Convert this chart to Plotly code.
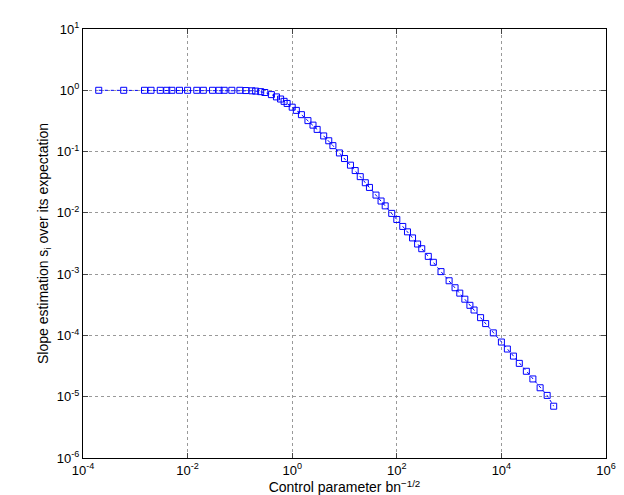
import plotly.graph_objects as go

# control parameter values (x) and normalised slope estimates (y)
control_param = [2e-4, 6e-4, 1.5e-3, 2e-3, 3e-3, 4e-3, 5e-3, 7e-3, 0.01, 0.015, 0.02, 0.03,
                 0.04, 0.05, 0.07, 0.1, 0.13, 0.17, 0.2, 0.25, 0.3, 0.4, 0.5, 0.6, 0.7, 0.8,
                 1.0, 1.2, 1.5, 2, 2.5, 3, 4, 5, 6, 8, 10, 13, 16, 20, 25, 30, 40, 50, 60, 80,
                 100, 130, 160, 200, 250, 300, 400, 500, 700, 1000, 1300, 1600, 2000, 2500,
                 3000, 4000, 5000, 7000, 1e4, 1.3e4, 1.7e4, 2.2e4, 3e4, 4e4, 5.5e4, 7.5e4, 1e5]
slope_ratio = [1.0, 1.0, 1.0, 1.0, 1.0, 1.0, 1.0, 1.0, 1.0, 1.0, 1.0, 1.0,
               1.0, 1.0, 1.0, 1.0, 0.99, 0.98, 0.97, 0.95, 0.92, 0.85, 0.78, 0.72, 0.66, 0.61,
               0.53, 0.47, 0.4, 0.32, 0.27, 0.23, 0.18, 0.15, 0.125, 0.095, 0.077, 0.06, 0.049,
               0.039, 0.031, 0.026, 0.0195, 0.0156, 0.013, 0.0098,
               0.0078, 0.006, 0.0049, 0.0039, 0.0031, 0.0026, 0.00195, 0.00156, 0.0011, 0.00078,
               0.0006, 0.00049, 0.00039, 0.00031, 0.00026, 0.000195, 0.000156, 0.00011,
               7.8e-5, 6e-5, 4.6e-5, 3.5e-5, 2.6e-5, 1.95e-5, 1.4e-5, 1.05e-5, 7e-6]

x_exps = [-4, -2, 0, 2, 4, 6]
y_exps = [-6, -5, -4, -3, -2, -1, 0, 1]

fig = go.Figure()
fig.add_trace(go.Scatter(
    x=control_param, y=slope_ratio, mode="lines+markers",
    line=dict(color="blue", width=1, dash="dot"),
    marker=dict(symbol="square-open", size=6, color="blue", line=dict(width=1)),
    showlegend=False))

axis_style = dict(type="log", showline=True, linecolor="black", linewidth=1, mirror="allticks",
                  ticks="inside", ticklen=5, showgrid=True, gridcolor="#999999", griddash="dot",
                  gridwidth=1, zeroline=False, tickfont=dict(size=13, color="black"),
                  ticklabeloverflow="allow")

fig.update_xaxes(range=[-4, 6], tickvals=[10 ** e for e in x_exps],
                 ticktext=[f"10<sup>{e}</sup>" for e in x_exps],
                 title=dict(text="Control parameter bn<sup>−1/2</sup>", standoff=4,
                            font=dict(size=14)), **axis_style)
fig.update_yaxes(range=[-6, 1], tickvals=[10 ** e for e in y_exps],
                 ticktext=[f"10<sup>{e}</sup>" for e in y_exps],
                 title=dict(text="Slope estimation s<sub>i</sub> over its expectation", standoff=4,
                            font=dict(size=14)), **axis_style)

fig.update_layout(width=624, height=495, template="plotly_white",
                  plot_bgcolor="white", paper_bgcolor="white",
                  font=dict(family="Liberation Sans, Arial, sans-serif", size=13, color="black"),
                  margin=dict(l=75, r=26, t=12, b=38))

fig.write_html("out.html")
